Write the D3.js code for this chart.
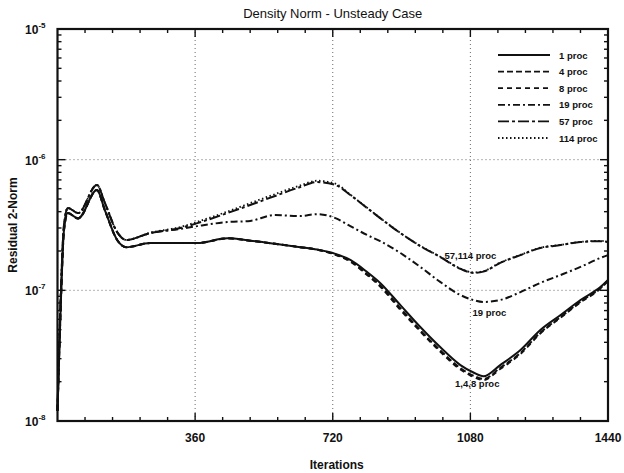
<!DOCTYPE html>
<html lang="en">
<head>
<meta charset="UTF-8">
<title>Density Norm - Unsteady Case</title>
<script src="https://d3js.org/d3.v7.min.js"></script>
<style>
    body { margin: 0; background: #fff; }
    svg { display: block; font-family: "Liberation Sans", Arial, sans-serif; }
    .grid { stroke: #444; stroke-width: 0.8; stroke-dasharray: 1 3; }
    .tick-label { font-size: 12px; font-weight: bold; fill: #111; }
    .axis-title { font-size: 12px; font-weight: bold; fill: #111; }
    .small { font-size: 9.5px; font-weight: bold; fill: #111; }
</style>
</head>
<body>
<svg id="chart" width="624" height="473"></svg>
<script>
// iteration grid shared by every series
const iterations = [0, 9, 17, 27, 54, 103, 124, 156, 180, 242, 321, 366, 444, 504, 569, 635, 679,
    727, 766, 810, 844, 897, 949, 1001, 1054, 1088, 1114, 1158, 1211, 1263, 1316, 1368, 1420, 1440];

const proc1 = [1.2e-8, 8.5e-8, 2.9e-7, 3.9e-7, 3.55e-7, 5.85e-7, 4.1e-7, 2.43e-7, 2.14e-7, 2.3e-7, 2.3e-7,
    2.3e-7, 2.5e-7, 2.4e-7, 2.27e-7, 2.14e-7, 2.05e-7, 1.9e-7, 1.71e-7, 1.38e-7, 1.14e-7, 7.7e-8, 5.24e-8,
    3.68e-8, 2.68e-8, 2.35e-8, 2.2e-8, 2.68e-8, 3.49e-8, 4.97e-8, 6.47e-8, 8.43e-8, 1.06e-7, 1.2e-7];
const proc4 = [1.2e-8, 8.5e-8, 2.9e-7, 3.9e-7, 3.55e-7, 5.85e-7, 4.1e-7, 2.43e-7, 2.14e-7, 2.3e-7, 2.3e-7,
    2.3e-7, 2.5e-7, 2.4e-7, 2.27e-7, 2.14e-7, 2.05e-7, 1.88e-7, 1.68e-7, 1.33e-7, 1.09e-7, 7.3e-8, 4.95e-8,
    3.48e-8, 2.54e-8, 2.22e-8, 2.1e-8, 2.55e-8, 3.32e-8, 4.75e-8, 6.25e-8, 8.2e-8, 1.04e-7, 1.19e-7];
const proc8 = [1.2e-8, 8.5e-8, 2.9e-7, 3.9e-7, 3.55e-7, 5.85e-7, 4.1e-7, 2.43e-7, 2.14e-7, 2.3e-7, 2.3e-7,
    2.3e-7, 2.5e-7, 2.4e-7, 2.27e-7, 2.14e-7, 2.05e-7, 1.87e-7, 1.66e-7, 1.31e-7, 1.07e-7, 7.1e-8, 4.85e-8,
    3.4e-8, 2.48e-8, 2.18e-8, 2.06e-8, 2.5e-8, 3.26e-8, 4.68e-8, 6.18e-8, 8.1e-8, 1.03e-7, 1.18e-7];
const proc19 = [1.2e-8, 1.0e-7, 3.16e-7, 4.27e-7, 3.9e-7, 6.4e-7, 4.66e-7, 2.79e-7, 2.43e-7, 2.74e-7, 2.95e-7,
    3.1e-7, 3.33e-7, 3.4e-7, 3.77e-7, 3.7e-7, 3.83e-7, 3.57e-7, 3.1e-7, 2.65e-7, 2.38e-7, 1.93e-7, 1.51e-7,
    1.16e-7, 9.2e-8, 8.43e-8, 8.14e-8, 8.43e-8, 9.7e-8, 1.14e-7, 1.31e-7, 1.51e-7, 1.77e-7, 1.86e-7];
const proc57 = [1.2e-8, 1.0e-7, 3.16e-7, 4.27e-7, 3.9e-7, 6.4e-7, 4.66e-7, 2.79e-7, 2.43e-7, 2.74e-7, 3.0e-7,
    3.27e-7, 3.9e-7, 4.5e-7, 5.27e-7, 6.17e-7, 6.74e-7, 6.4e-7, 5.36e-7, 4.26e-7, 3.57e-7, 2.74e-7, 2.18e-7,
    1.8e-7, 1.46e-7, 1.36e-7, 1.39e-7, 1.62e-7, 1.86e-7, 2.11e-7, 2.22e-7, 2.34e-7, 2.38e-7, 2.34e-7];
const proc114 = [1.2e-8, 1.0e-7, 3.16e-7, 4.27e-7, 3.9e-7, 6.4e-7, 4.66e-7, 2.79e-7, 2.43e-7, 2.76e-7, 3.05e-7,
    3.35e-7, 4.0e-7, 4.65e-7, 5.45e-7, 6.35e-7, 6.9e-7, 6.55e-7, 5.4e-7, 4.28e-7, 3.58e-7, 2.75e-7, 2.19e-7,
    1.81e-7, 1.47e-7, 1.37e-7, 1.4e-7, 1.63e-7, 1.87e-7, 2.12e-7, 2.23e-7, 2.35e-7, 2.39e-7, 2.35e-7];

const seriesNames = ["1 proc", "4 proc", "8 proc", "19 proc", "57 proc", "114 proc"];
const seriesValues = [proc1, proc4, proc8, proc19, proc57, proc114];
const dashes = ["none", "6 3", "5 4", "7 3 2 3", "11 3 3 3", "1.5 2.5"];

const xMajor = [360, 720, 1080, 1440];
const yDecades = [1e-8, 1e-7, 1e-6, 1e-5];
const yExponents = ["-8", "-7", "-6", "-5"];

const annotations = [
    { text: "57,114 proc", it: 1080, v: 1.73e-7 },
    { text: "19 proc", it: 1130, v: 6.35e-8 },
    { text: "1,4,8 proc", it: 1098, v: 1.82e-8 }
];

const margin = { top: 29, right: 16, bottom: 52, left: 57.5 };
const W = 624, H = 473;
const svg = d3.select("#chart");

const x = d3.scaleLinear().domain([0, 1440]).range([margin.left, W - margin.right]);
const y = d3.scaleLog().domain([1e-8, 1e-5]).range([H - margin.bottom, margin.top]);
const [x0, x1] = x.range();
const [y0, y1] = y.range();

// grid
svg.append("g").selectAll("line").data(yDecades.slice(1, 3)).join("line")
    .attr("class", "grid").attr("x1", x0).attr("x2", x1)
    .attr("y1", d => y(d)).attr("y2", d => y(d));
svg.append("g").selectAll("line").data(xMajor.slice(0, 3)).join("line")
    .attr("class", "grid").attr("y1", y0).attr("y2", y1)
    .attr("x1", d => x(d)).attr("x2", d => x(d));

// x ticks, inward on bottom and top
const xMinor = d3.range(72, 1440, 72).filter(d => d % 360 !== 0);
const tickG = svg.append("g").attr("stroke", "#111").attr("stroke-width", 1.4);
[[y0, -1], [y1, 1]].forEach(([yy, dir]) => {
    tickG.selectAll(null).data(xMinor).join("line")
        .attr("x1", d => x(d)).attr("x2", d => x(d))
        .attr("y1", yy).attr("y2", yy + dir * 4);
    tickG.selectAll(null).data(xMajor.slice(0, 3)).join("line")
        .attr("x1", d => x(d)).attr("x2", d => x(d))
        .attr("y1", yy).attr("y2", yy + dir * 8);
});

// y ticks (log minors), inward on left and right
const yMinor = [];
[1e-8, 1e-7, 1e-6].forEach(d => { for (let k = 2; k <= 9; k++) yMinor.push(d * k); });
[[x0, 1], [x1, -1]].forEach(([xx, dir]) => {
    tickG.selectAll(null).data(yMinor).join("line")
        .attr("y1", d => y(d)).attr("y2", d => y(d))
        .attr("x1", xx).attr("x2", xx + dir * 4);
    tickG.selectAll(null).data(yDecades).join("line")
        .attr("y1", d => y(d)).attr("y2", d => y(d))
        .attr("x1", xx).attr("x2", xx + dir * 8);
});

// frame
svg.append("rect").attr("x", x0).attr("y", y1).attr("width", x1 - x0).attr("height", y0 - y1)
    .attr("fill", "none").attr("stroke", "#111").attr("stroke-width", 2.2);

// tick labels
svg.append("g").selectAll("text").data(xMajor).join("text")
    .attr("class", "tick-label").attr("text-anchor", "middle")
    .attr("x", d => x(d)).attr("y", y0 + 21).text(d => d);

const yl = svg.append("g").selectAll("text").data(yDecades).join("text")
    .attr("class", "tick-label").attr("text-anchor", "end")
    .attr("x", x0 - 12).attr("y", d => y(d) + 5);
yl.append("tspan").text("10");
yl.append("tspan").attr("font-size", "8px").attr("dy", -6).text((d, i) => yExponents[i]);

// titles
svg.append("text").attr("x", (x0 + x1) / 2).attr("y", 18).attr("text-anchor", "middle")
    .attr("font-size", "13px").attr("fill", "#111").text("Density Norm - Unsteady Case");
svg.append("text").attr("class", "axis-title").attr("x", (x0 + x1) / 2 + 4).attr("y", 469)
    .attr("text-anchor", "middle").text("Iterations");
svg.append("text").attr("class", "axis-title").attr("text-anchor", "middle")
    .attr("transform", `translate(17,${(y0 + y1) / 2}) rotate(-90)`).text("Residual 2-Norm");

// series
const line = d3.line().curve(d3.curveMonotoneX)
    .x((d, i) => x(iterations[i])).y(d => y(d));
svg.append("g").selectAll("path").data(seriesValues).join("path")
    .attr("d", line).attr("fill", "none").attr("stroke", "#111")
    .attr("stroke-width", (d, i) => i === 5 ? 1.8 : 2)
    .attr("stroke-dasharray", (d, i) => dashes[i]);

// legend
const lg = svg.append("g").selectAll("g").data(seriesNames).join("g")
    .attr("transform", (d, i) => `translate(498,${55 + i * 16.6})`);
lg.append("line").attr("x1", 0).attr("x2", 52).attr("stroke", "#111").attr("stroke-width", 1.8)
    .attr("stroke-dasharray", (d, i) => dashes[i]);
lg.append("text").attr("class", "small").attr("x", 61).attr("y", 3.5).text(d => d);

// curve annotations
svg.append("g").selectAll("text").data(annotations).join("text")
    .attr("class", "small").attr("text-anchor", "middle")
    .attr("x", d => x(d.it)).attr("y", d => y(d.v)).text(d => d.text);
</script>
</body>
</html>
